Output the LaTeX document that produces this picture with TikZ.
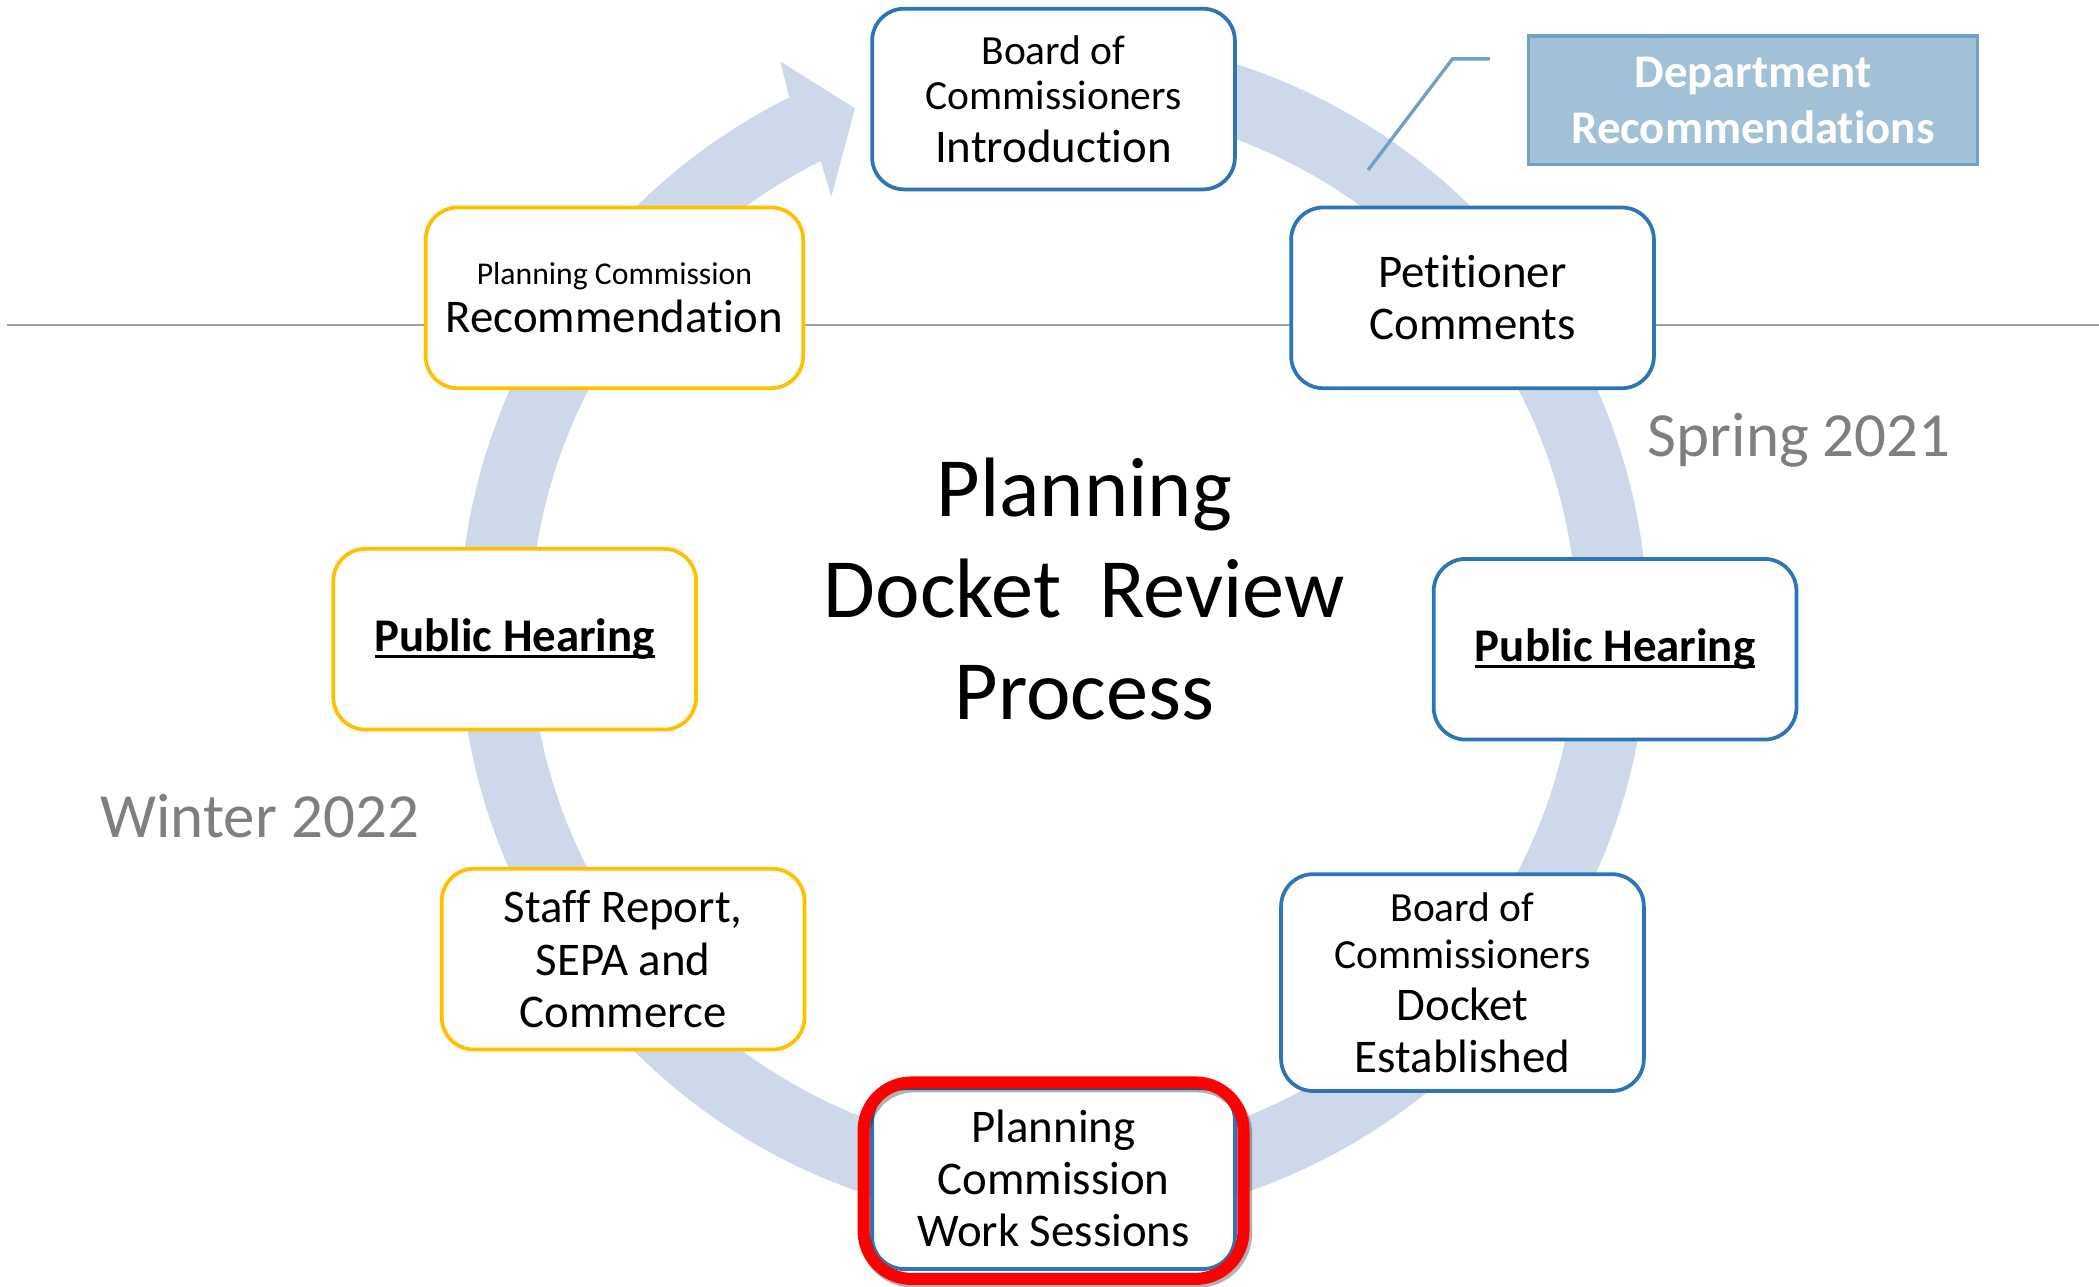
\documentclass[tikz,border=0pt]{standalone}
\usepackage{fontspec}
\setmainfont{Carlito}[Ligatures=NoCommon]
\usetikzlibrary{calc}
\definecolor{ringblue}{RGB}{205,216,234}
\definecolor{boxblue}{RGB}{46,117,182}
\definecolor{boxgold}{RGB}{255,192,0}
\definecolor{deptfill}{RGB}{162,192,214}
\definecolor{deptline}{RGB}{114,159,195}
\definecolor{seasongray}{RGB}{127,127,127}
\definecolor{dividergray}{RGB}{160,160,160}
% underline sitting just under the baseline, crossed by descenders
\newcommand\ulinetext[1]{\setbox0\hbox{#1}\rlap{\rule[-5pt]{\wd0}{2.6pt}}\box0}
\newcommand\smallline{\fontsize{31}{34}\selectfont}

\begin{document}
\begin{tikzpicture}[x=1pt,y=-1pt,
  stage/.style={draw, line width=2.8pt, rounded corners=24pt, fill=white,
    minimum width=271pt, minimum height=135pt, align=center, inner sep=0pt,
    font=\fontsize{35}{39}\selectfont},
  bluestage/.style={stage, draw=boxblue},
  goldstage/.style={stage, draw=boxgold},
  season/.style={text=seasongray, font=\fontsize{47}{56}\selectfont},
]
\useasboundingbox (0,0) rectangle (1568,961);

% circular arrow running clockwise around the centre
\coordinate (c) at (787,470.5);
\fill[ringblue] ($(c)+(-88:444)$) arc[start angle=-88, end angle=243.6, radius=444]
  -- (583,46) -- (638.7,80.9) -- (621,147)
  -- ($(c)+(243.6:391)$) arc[start angle=243.6, end angle=-88, radius=391] -- cycle;

% divider line
\coordinate (divW) at (5,243);
\coordinate (divE) at (1568,243);
\draw[dividergray, line width=1.5pt] (divW) -- (divE);

% stages
\node[bluestage] (intro) at (787,74) {{\smallline Board of}\\[-5pt]{\smallline Commissioners}\\Introduction};
\node[bluestage] (petition) at (1100,222.5) {Petitioner\\Comments};
\node[goldstage, minimum width=282pt] (pcrec) at (459,222.5)
  {{\fontsize{23.7}{28}\selectfont Planning Commission}\\[-3pt]Recommendation};
\node[goldstage] (hearingW) at (384.5,477.5) {\bfseries\ulinetext{Public Hearing}};
\node[bluestage] (hearingE) at (1206.5,485) {\bfseries\ulinetext{Public Hearing}};
\node[goldstage] (staff) at (465.5,716.5) {Staff Report,\\SEPA and\\Commerce};
\node[bluestage, minimum height=162pt] (docket) at (1092.5,734)
  {{\smallline Board of}\\[-4pt]{\smallline Commissioners}\\Docket\\Established};
\node[bluestage] (work) at (787,880.5) {Planning\\Commission\\Work Sessions};

% highlight frame around the current stage
\draw[black, opacity=0.3, line width=9pt, rounded corners=36pt]
  ($(work.north west)+(-4,0)$) rectangle ($(work.south east)+(7,8)$);
\draw[red, line width=9pt, rounded corners=36pt]
  ($(work.north west)+(-5,-3)$) rectangle ($(work.south east)+(5,6)$);

% title
\node[font=\fontsize{63}{76}\selectfont, align=center] (title) at (810,440)
  {Planning\\Docket\ \ Review\\Process};

% seasons
\node[season] (spring) at (1344,329) {Spring 2021};
\node[season] (winter) at (194,610) {Winter 2022};

% department callout
\node[draw=deptline, fill=deptfill, line width=2.5pt, minimum width=335pt,
  minimum height=96pt, text=white, align=center,
  font=\bfseries\fontsize{35}{42}\selectfont] (dept) at (1309.5,75)
  {Department\\Recommendations};
\coordinate (callA) at (1113,44);
\coordinate (callB) at (1085,44);
\coordinate (callC) at (1022,127);
\draw[deptline, line width=2.5pt] (callA) -- (callB) -- (callC);
\end{tikzpicture}
\end{document}
